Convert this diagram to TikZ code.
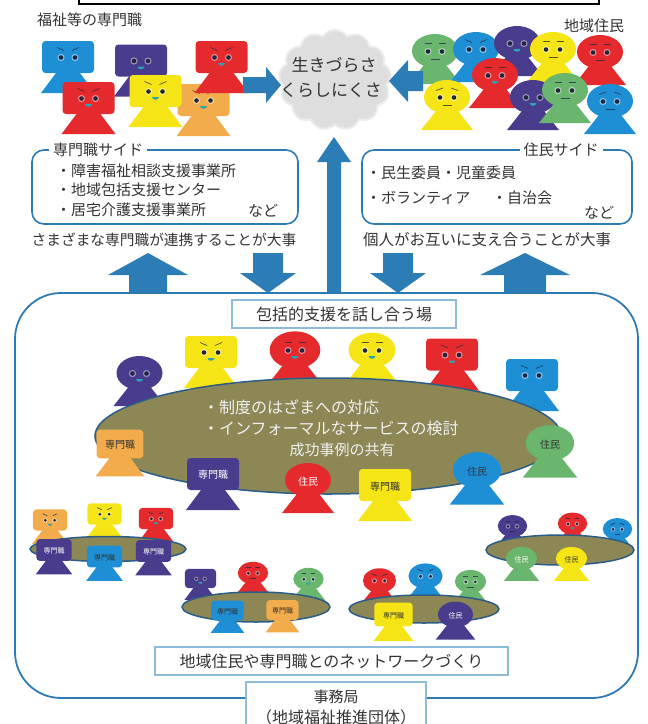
\documentclass[tikz,border=0pt]{standalone}
\usepackage{fontspec}
\setmainfont{Noto Sans CJK JP}
\usetikzlibrary{shapes.symbols}

\definecolor{pBlue}{HTML}{1E8FD5}
\definecolor{pPurple}{HTML}{4A3C8C}
\definecolor{pRed}{HTML}{E52A2E}
\definecolor{pYellow}{HTML}{F5E516}
\definecolor{pOrange}{HTML}{F2AC4C}
\definecolor{pGreen}{HTML}{6BB66E}
\definecolor{arrc}{HTML}{2C7DB6}
\definecolor{framec}{HTML}{2E7BB4}
\definecolor{lightframe}{HTML}{8DBBD8}
\definecolor{tablec}{HTML}{8C8755}
\definecolor{tableedge}{HTML}{2B5D87}
\definecolor{txtc}{HTML}{333333}
\definecolor{eyec}{HTML}{1F2740}
\definecolor{mouthc}{HTML}{2AA3B5}
\definecolor{cloudc}{HTML}{DEDEDE}

% one figure: shape (s = square head, r = round head), x, y, scale, colour
\newcommand{\Fig}[5]{%
  \begin{scope}[shift={(#2,#3)},scale=#4]
    \if s#1
      \fill[#5] (0,0) -- (-27,36) -- (27,36) -- cycle;
      \fill[#5,rounded corners=3.5pt] (-26,-16) rectangle (26,16);
    \else
      \fill[#5] (0,0) -- (-26,33) -- (26,33) -- cycle;
      \fill[#5] (0,0) ellipse [x radius=23,y radius=17];
    \fi
  \end{scope}}

% face: x, y, scale, brows (a angry, n flat, w worried, x none), mouth (t smile, l line, x none)
\newcommand{\Face}[5]{%
  \begin{scope}[shift={(#1,#2)},scale=#3]
    \fill[white,opacity=.45] (-7,0.5) circle[radius=3.6] (7,0.5) circle[radius=3.6];
    \fill[eyec] (-7,0.5) circle[radius=2.3] (7,0.5) circle[radius=2.3];
    \if a#4 \draw[browline] (-11,-9.5) -- (-4,-6.5) (11,-9.5) -- (4,-6.5); \fi
    \if n#4 \draw[browline] (-10.5,-8) -- (-3.5,-8) (10.5,-8) -- (3.5,-8); \fi
    \if w#4 \draw[browline] (-11,-6.5) -- (-4,-9) (11,-6.5) -- (4,-9); \fi
    \if t#5 \fill[mouthc] (-3.4,6) arc[start angle=180,end angle=0,x radius=3.4,y radius=2.8] -- cycle; \fi
    \if l#5 \draw[browline] (-4.5,8) -- (4.5,8); \fi
  \end{scope}}

% label printed on a head: x, y, scale, text, colour
\newcommand{\Tag}[5]{%
  \node[scale=#3,text=#5,font=\fontsize{10}{10}\selectfont,inner sep=0] at (#1,#2) {#4};}

% vertical block arrow: cx, tip y, neck y, tail y, head half width, shaft half width
\newcommand{\VArr}[6]{%
  \fill[arrc] (#1,#2) -- (#1+#5,#3) -- (#1+#6,#3) -- (#1+#6,#4) -- (#1-#6,#4)
    -- (#1-#6,#3) -- (#1-#5,#3) -- cycle;}
% horizontal block arrow: tip x, cy, neck x, tail x, head half height, shaft half height
\newcommand{\HArr}[6]{%
  \fill[arrc] (#1,#2) -- (#3,#2-#5) -- (#3,#2-#6) -- (#4,#2-#6) -- (#4,#2+#6)
    -- (#3,#2+#6) -- (#3,#2+#5) -- cycle;}

\begin{document}
\begin{tikzpicture}[x=1pt,y=-1pt,
  browline/.style={draw=eyec,line width=0.7pt,opacity=.75},
  txt/.style={text=txtc,inner sep=0},
  f15/.style={font=\fontsize{15}{15}\selectfont},
  f16/.style={font=\fontsize{16}{16}\selectfont},
  sidebox/.style={draw=framec,line width=1.6pt,rounded corners=12pt},
  labelbox/.style={draw=lightframe,line width=1.2pt,fill=white,text=txtc},
  table/.style={fill=tablec,draw=tableedge,line width=1.5pt}]
\useasboundingbox (0,0) rectangle (648,724);

% ---------- title frame (top) ----------
\draw[line width=2pt,black] (79,-6) rectangle (599,4);

% ---------- cloud ----------
\node[cloud,cloud puffs=13,cloud puff arc=115,fill=cloudc,draw=cloudc!60,line width=2pt,
  minimum width=112,minimum height=100,aspect=1] (cloud) at (335,80) {};
\node[txt,font=\fontsize{17}{17}\selectfont] (c1) at (334,65) {生きづらさ};
\node[txt,font=\fontsize{17}{17}\selectfont] (c2) at (331,90) {くらしにくさ};

% ---------- professionals ----------
\node[txt,f15,anchor=west] (profhead) at (37,20) {福祉等の専門職};
\Fig{s}{68}{57}{1}{pBlue}\Face{68}{57}{1}{a}{x}
\Fig{s}{141}{60.5}{1}{pPurple}\Face{141}{60.5}{1}{x}{t}
\Fig{s}{203.5}{100}{1}{pOrange}\Face{203.5}{100}{1}{a}{t}
\Fig{s}{221.5}{57}{1}{pRed}\Face{221.5}{57}{1}{a}{t}
\Fig{s}{88.5}{98}{1}{pRed}\Face{88.5}{98}{1}{a}{t}
\Fig{s}{155.5}{91}{1}{pYellow}\Face{155.5}{91}{1}{a}{t}

% ---------- residents ----------
\node[txt,f15] (reshead) at (594,26) {地域住民};
\Fig{r}{435}{51}{1}{pGreen}\Face{435}{51}{1}{n}{l}
\Fig{r}{476}{49}{1}{pBlue}\Face{476}{49}{1}{a}{x}
\Fig{r}{517}{43}{1}{pPurple}\Face{517}{43}{1}{x}{t}
\Fig{r}{553}{49}{1}{pYellow}\Face{553}{49}{1}{n}{l}
\Fig{r}{600}{52}{1}{pRed}\Face{600}{52}{1}{n}{l}
\Fig{r}{447}{97}{1}{pYellow}\Face{447}{97}{1}{w}{l}
\Fig{r}{495}{75}{1}{pRed}\Face{495}{75}{1}{n}{t}
\Fig{r}{533}{97}{1}{pPurple}\Face{533}{97}{1}{x}{t}
\Fig{r}{565}{90}{1}{pGreen}\Face{565}{90}{1}{n}{l}
\Fig{r}{610}{101}{1}{pBlue}\Face{610}{101}{1}{w}{l}

% ---------- arrows into the cloud ----------
\HArr{281}{85}{266}{243}{18}{8}
\HArr{389}{81}{408}{423}{21}{10}
\VArr{334}{137}{162}{293}{17}{7}

% ---------- side boxes ----------
\draw[sidebox] (32,150) rectangle (298,224);
\node[txt,f15,fill=white,inner xsep=4pt] (proside) at (98,150) {専門職サイド};
\node[txt,f15,anchor=west] (p1) at (56,171) {・障害福祉相談支援事業所};
\node[txt,f15,anchor=west] (p2) at (56,190) {・地域包括支援センター};
\node[txt,f15,anchor=west] (p3) at (56,210) {・居宅介護支援事業所};
\node[txt,f15] (p4) at (263,211) {など};

\draw[sidebox] (362,150) rectangle (632,224);
\node[txt,f15,fill=white,inner xsep=4pt] (resside) at (561,150) {住民サイド};
\node[txt,f15,anchor=west] (r1) at (366,173) {・民生委員・児童委員};
\node[txt,f15,anchor=west] (r2) at (366,198) {・ボランティア};
\node[txt,f15,anchor=west] (r3) at (492,198) {・自治会};
\node[txt,f15] (r4) at (599,213) {など};

\node[txt,font=\fontsize{14.7}{14.7}\selectfont] (proline) at (164,240) {さまざまな専門職が連携することが大事};
\node[txt,font=\fontsize{15.5}{15.5}\selectfont] (resline) at (487,240) {個人がお互いに支え合うことが大事};

% ---------- four arrows above the meeting frame ----------
\VArr{148}{253}{275}{293}{40}{19}
\VArr{268}{293}{273}{253}{28}{15}
\VArr{398}{293}{273}{253}{28}{15}
\VArr{525}{253}{275}{293}{45}{21}

% ---------- meeting frame ----------
\draw[framec,line width=1.8pt,rounded corners=46pt] (15,293) rectangle (638,698);
\node[labelbox,f16,minimum width=224,minimum height=28] (forum) at (344,314) {包括的支援を話し合う場};

% back row around the big table
\Fig{r}{139.5}{373}{1}{pPurple}\Face{139.5}{373}{1}{x}{t}
\Fig{s}{211}{352}{1}{pYellow}\Face{211}{352}{1}{a}{t}
\Fig{r}{295}{350}{1.1}{pRed}\Face{295}{350}{1}{n}{t}
\Fig{r}{372}{350}{1.02}{pYellow}\Face{372}{350}{1}{n}{t}
\Fig{s}{452}{354.5}{1}{pRed}\Face{452}{354.5}{1}{a}{t}
\Fig{s}{532}{375}{1}{pBlue}\Face{532}{375}{1}{a}{x}

% big table
\fill[table] (328,436) ellipse [x radius=233,y radius=58];
\node[txt,f16,text=white!94!black,anchor=west] (m1) at (203,407) {・制度のはざまへの対応};
\node[txt,f16,text=white!94!black,anchor=west] (m2) at (203,428) {・インフォーマルなサービスの検討};
\node[txt,font=\fontsize{15}{15}\selectfont,text=white!94!black] (m3) at (342,450) {成功事例の共有};

% front row around the big table
\Fig{s}{120}{444}{.9}{pOrange}\Tag{120}{445}{1}{専門職}{txtc}
\Fig{s}{213}{474}{1}{pPurple}\Tag{213}{475}{1}{専門職}{white}
\Fig{r}{308}{480}{1}{pRed}\Tag{308}{482}{1}{住民}{white}
\Fig{s}{385}{485}{1}{pYellow}\Tag{385}{487}{1}{専門職}{txtc}
\Fig{r}{477}{470}{1.05}{pBlue}\Tag{477}{472}{1}{住民}{txtc}
\Fig{r}{550}{443}{1.05}{pGreen}\Tag{550}{445}{1}{住民}{txtc}

% ---------- small group A ----------
\Fig{s}{50}{520}{.66}{pOrange}\Face{50}{520}{.66}{a}{t}
\Fig{s}{104.5}{514}{.66}{pYellow}\Face{104.5}{514}{.66}{a}{t}
\Fig{s}{156}{518.5}{.66}{pRed}\Face{156}{518.5}{.66}{a}{t}
\fill[table] (108,549) ellipse [x radius=78,y radius=12.5];
\Fig{s}{54}{550}{.68}{pPurple}\Tag{54}{551}{.7}{専門職}{white}
\Fig{s}{104.5}{556.5}{.68}{pBlue}\Tag{104.5}{557.5}{.7}{専門職}{txtc}
\Fig{s}{153.5}{551}{.68}{pPurple}\Tag{153.5}{552}{.7}{専門職}{white}

% ---------- small group B ----------
\Fig{s}{200.5}{578.5}{.6}{pPurple}\Face{200.5}{578.5}{.6}{x}{t}
\Fig{r}{253}{573}{.66}{pRed}\Face{253}{573}{.66}{n}{l}
\Fig{r}{308.5}{579}{.66}{pGreen}\Face{308.5}{579}{.66}{n}{t}
\fill[table] (256,607) ellipse [x radius=74,y radius=15];
\Fig{s}{227.5}{610.5}{.62}{pBlue}\Tag{227.5}{611.5}{.7}{専門職}{txtc}
\Fig{s}{282.5}{610}{.62}{pOrange}\Tag{282.5}{611}{.7}{専門職}{txtc}

% ---------- small group C ----------
\Fig{r}{379.5}{580.5}{.72}{pRed}\Face{379.5}{580.5}{.72}{a}{x}
\Fig{r}{425.5}{576}{.74}{pBlue}\Face{425.5}{576}{.72}{a}{x}
\Fig{r}{470.5}{581.5}{.68}{pGreen}\Face{470.5}{581.5}{.68}{n}{l}
\fill[table] (424,609) ellipse [x radius=75,y radius=14];
\Fig{s}{393.5}{614.5}{.74}{pYellow}\Tag{393.5}{615.5}{.7}{専門職}{txtc}
\Fig{r}{455.5}{614.5}{.76}{pPurple}\Tag{455.5}{615.5}{.7}{住民}{white}

% ---------- small group D ----------
\Fig{r}{512.5}{526}{.64}{pPurple}\Face{512.5}{526}{.64}{n}{l}
\Fig{r}{572.5}{523.5}{.64}{pRed}\Face{572.5}{523.5}{.64}{n}{t}
\Fig{r}{617.5}{529}{.64}{pBlue}\Face{617.5}{529}{.64}{w}{l}
\fill[table] (560,550) ellipse [x radius=74,y radius=15];
\Fig{r}{521.5}{558.5}{.68}{pGreen}\Tag{521.5}{559.5}{.7}{住民}{white}
\Fig{r}{571.5}{558.5}{.68}{pYellow}\Tag{571.5}{559.5}{.7}{住民}{txtc}

% ---------- bottom labels ----------
\node[labelbox,f16,minimum width=353,minimum height=28] (network) at (331.5,661) {地域住民や専門職とのネットワークづくり};
\draw[lightframe,line width=1.2pt,fill=white] (246,730) -- (246,682) -- (426,682) -- (426,730);
\node[txt,f15] (office) at (336,697) {事務局};
\node[txt,f16] (officesub) at (336,717) {（地域福祉推進団体）};

\end{tikzpicture}
\end{document}
